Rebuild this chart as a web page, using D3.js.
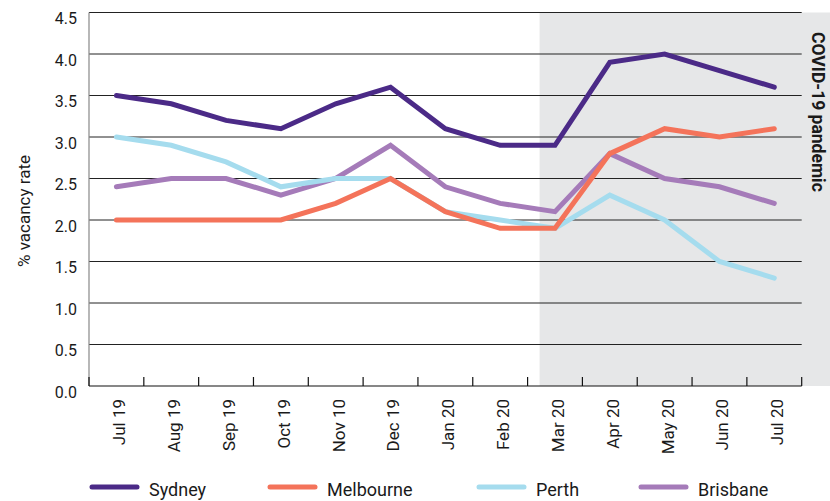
<!DOCTYPE html>
<html><head><meta charset="utf-8">
<script src="https://cdn.jsdelivr.net/npm/d3@7"></script>
<style>
html,body{margin:0;padding:0;background:#fff;}
text{font-family:Roboto,"DejaVu Sans",sans-serif;fill:#1a1a1a;}
</style></head>
<body>
<svg id="chart" width="830" height="501"></svg>
<script>
const months = ["Jul 19","Aug 19","Sep 19","Oct 19","Nov 10","Dec 19","Jan 20","Feb 20","Mar 20","Apr 20","May 20","Jun 20","Jul 20"];
const sydney    = [3.5,3.4,3.2,3.1,3.4,3.6,3.1,2.9,2.9,3.9,4.0,3.8,3.6];
const melbourne = [2.0,2.0,2.0,2.0,2.2,2.5,2.1,1.9,1.9,2.8,3.1,3.0,3.1];
const perth     = [3.0,2.9,2.7,2.4,2.5,2.5,2.1,2.0,1.9,2.3,2.0,1.5,1.3];
const brisbane  = [2.4,2.5,2.5,2.3,2.5,2.9,2.4,2.2,2.1,2.8,2.5,2.4,2.2];
const yTicks = [0,0.5,1.0,1.5,2.0,2.5,3.0,3.5,4.0,4.5];
const seriesNames = ["Sydney","Melbourne","Perth","Brisbane"];
const seriesColors = ["#4b2a87","#f4735a","#a5dcee","#a57bb9"];
const shadeFrom = "Mar 20";
const shadeLabel = "COVID-19 pandemic";
const yTitle = "% vacancy rate";

const series = [
  {name:"Brisbane", values:brisbane, color:seriesColors[3]},
  {name:"Perth", values:perth, color:seriesColors[2]},
  {name:"Melbourne", values:melbourne, color:seriesColors[1]},
  {name:"Sydney", values:sydney, color:seriesColors[0]}
];

const svg = d3.select("#chart");
const L = 89, R = 801.7, T = 12.5, B = 386;

const x = d3.scaleBand().domain(months).range([L, R]).padding(0);
const y = d3.scaleLinear().domain([0, 4.5]).range([B, T]);
const cx = d => x(d) + x.bandwidth()/2;

// shaded region
svg.append("rect")
  .attr("x", x(shadeFrom) + 12).attr("y", T)
  .attr("width", 830 - (x(shadeFrom) + 12)).attr("height", B - T)
  .attr("fill", "#e6e7e8");

// gridlines
svg.append("g").selectAll("line").data(yTicks.filter(v => v > 0)).join("line")
  .attr("x1", L).attr("x2", R)
  .attr("y1", d => y(d)).attr("y2", d => y(d))
  .attr("stroke", "#222").attr("stroke-width", 1);

// y-axis line
svg.append("line").attr("x1", L).attr("x2", L).attr("y1", T).attr("y2", B)
  .attr("stroke", "#888").attr("stroke-width", 1.2);

// y tick labels
svg.append("g").selectAll("text").data(yTicks).join("text")
  .attr("x", 77).attr("y", d => y(d) + 11.5)
  .attr("text-anchor", "end").attr("font-size", 16)
  .text(d => d.toFixed(1));

// y title
svg.append("text")
  .attr("transform", "translate(30,211) rotate(-90)")
  .attr("text-anchor", "middle").attr("font-size", 17)
  .text(yTitle);

// x axis
svg.append("line").attr("x1", L).attr("x2", R).attr("y1", B).attr("y2", B)
  .attr("stroke", "#111").attr("stroke-width", 1.2);
const bounds = months.map(m => x(m)).concat([R]);
svg.append("g").selectAll("line").data(bounds).join("line")
  .attr("x1", d => d).attr("x2", d => d).attr("y1", B - 9).attr("y2", B)
  .attr("stroke", "#111").attr("stroke-width", 1.2);

svg.append("g").selectAll("text").data(months).join("text")
  .attr("transform", d => `translate(${cx(d) + 3},399) rotate(-90)`)
  .attr("text-anchor", "end").attr("dy", "0.35em").attr("font-size", 17)
  .text(d => d);

// lines
const line = d3.line().x((d, i) => cx(months[i])).y(d => y(d));
svg.append("g").selectAll("path").data(series).join("path")
  .attr("d", d => line(d.values))
  .attr("fill", "none").attr("stroke", d => d.color)
  .attr("stroke-width", 5).attr("stroke-linejoin", "miter").attr("stroke-linecap", "round");

// COVID label
svg.append("text")
  .attr("transform", "translate(812,32) rotate(90)")
  .attr("text-anchor", "start").attr("font-size", 17.5).attr("font-weight", "bold")
  .text(shadeLabel);

// legend
const legX = [90, 268, 477, 639];
const leg = svg.append("g").selectAll("g").data(seriesNames).join("g")
  .attr("transform", (d, i) => `translate(${legX[i]},487)`);
leg.append("line").attr("x1", 2).attr("x2", 47).attr("y1", 0).attr("y2", 0)
  .attr("stroke", (d, i) => seriesColors[i]).attr("stroke-width", 5).attr("stroke-linecap", "round");
leg.append("text").attr("x", 59).attr("y", 9).attr("font-size", 18).text(d => d);
</script>
</body></html>
